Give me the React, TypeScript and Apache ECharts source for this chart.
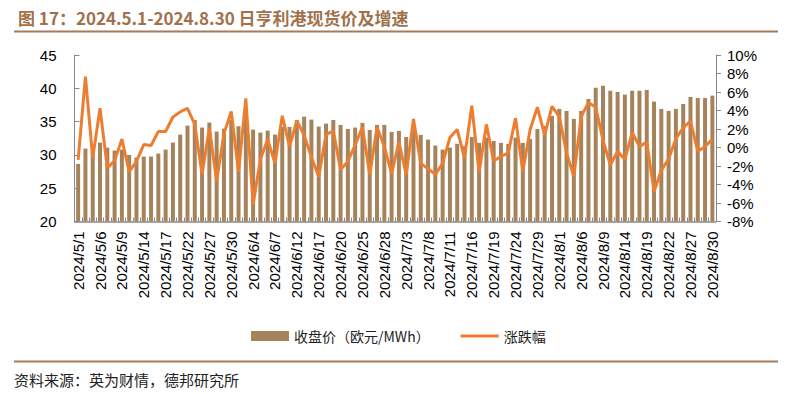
import React, { useEffect, useRef } from "react";
import * as echarts from "echarts";

const dates: string[] = [
  "2024/5/1","2024/5/2","2024/5/3","2024/5/6","2024/5/7","2024/5/8","2024/5/9","2024/5/10","2024/5/13","2024/5/14",
  "2024/5/15","2024/5/16","2024/5/17","2024/5/20","2024/5/21","2024/5/22","2024/5/23","2024/5/24","2024/5/27","2024/5/28",
  "2024/5/29","2024/5/30","2024/5/31","2024/6/3","2024/6/4","2024/6/5","2024/6/6","2024/6/7","2024/6/10","2024/6/11",
  "2024/6/12","2024/6/13","2024/6/14","2024/6/17","2024/6/18","2024/6/19","2024/6/20","2024/6/21","2024/6/24","2024/6/25",
  "2024/6/26","2024/6/27","2024/6/28","2024/7/1","2024/7/2","2024/7/3","2024/7/4","2024/7/5","2024/7/8","2024/7/9",
  "2024/7/10","2024/7/11","2024/7/12","2024/7/15","2024/7/16","2024/7/17","2024/7/18","2024/7/19","2024/7/22","2024/7/23",
  "2024/7/24","2024/7/25","2024/7/26","2024/7/29","2024/7/30","2024/7/31","2024/8/1","2024/8/2","2024/8/5","2024/8/6",
  "2024/8/7","2024/8/8","2024/8/9","2024/8/12","2024/8/13","2024/8/14","2024/8/15","2024/8/16","2024/8/19","2024/8/20",
  "2024/8/21","2024/8/22","2024/8/23","2024/8/26","2024/8/27","2024/8/28","2024/8/29","2024/8/30",
];

const closePrice: number[] = [
  28.65, 30.95, 30.6, 31.85, 31.1, 30.65, 30.8, 30.0, 29.6, 29.75,
  29.75, 30.2, 30.8, 31.85, 33.05, 34.4, 35.25, 34.1, 34.85, 33.5,
  33.95, 35.25, 34.3, 36.1, 33.8, 33.35, 33.65, 33.05, 34.2, 34.2,
  35.25, 35.75, 35.3, 34.25, 34.7, 35.25, 34.5, 33.9, 34.1, 34.8,
  33.75, 34.5, 34.5, 33.45, 33.6, 32.7, 33.7, 33.0, 32.3, 31.4,
  30.8, 31.1, 31.65, 31.3, 32.7, 31.8, 32.6, 32.1, 31.8, 31.65,
  32.6, 31.8, 32.4, 33.9, 34.35, 35.85, 36.9, 36.6, 35.4, 36.6,
  38.4, 40.1, 40.4, 39.65, 39.45, 39.05, 39.65, 39.65, 39.75, 38.0,
  36.9, 36.6, 36.9, 37.65, 38.7, 38.55, 38.55, 38.9,
];

const changePct: number[] = [
  -1.33, 7.66, -1.15, 4.24, -2.23, -1.42, 0.9, -2.6, -1.5, 0.32,
  0.22, 1.73, 1.73, 3.3, 3.85, 4.24, 2.5, -2.9, 2.1, -3.65,
  1.5, 3.9, -2.66, 5.32, -6.15, -1.3, 0.9, -1.7, 3.43, 0.1,
  2.9, 1.33, -1.05, -3.15, 1.4, 1.8, -2.41, -1.5, 0.29, 2.22,
  -2.95, 2.18, 0.1, -2.85, 0.6, -2.95, 3.08, -1.72, -2.3, -2.9,
  -1.72, 1.08, 1.95, -1.15, 4.53, -2.7, 2.5, -1.47, -0.97, -0.61,
  3.17, -2.59, 1.95, 4.35, 1.35, 4.45, 3.35, -0.6, -3.12, 3.33,
  4.85, 4.35, 0.8, -1.9, -0.4, -1.3, 1.63, 0.11, 0.58, -4.75,
  -2.45, -1.25, 0.95, 2.15, 2.85, -0.42, 0.12, 0.88,
];

const leftTicks = { min: 20, max: 45, interval: 5 };
const rightTicks = { min: -8, max: 10, interval: 2 };

const titleText = "图 17：2024.5.1-2024.8.30 日亨利港现货价及增速";
const sourceText = "资料来源：英为财情，德邦研究所";
const barName = "收盘价（欧元/MWh）";
const lineName = "涨跌幅";

const BAR_COLOR = "#A5845B";
const LINE_COLOR = "#ED7D31";
const TITLE_COLOR = "#A0714B";
const NUM_FONT = "'Liberation Sans', Arial, sans-serif";
const CJK_FONT = "'Noto Sans CJK SC', sans-serif";

export default function App() {
  const ref = useRef<HTMLDivElement>(null);
  useEffect(() => {
    if (!ref.current) return;
    const chart = echarts.init(ref.current, null, { renderer: "svg" });
    chart.setOption({
      animation: false,
      backgroundColor: "#ffffff",
      title: {
        text: titleText,
        left: 13,
        top: 4,
        textStyle: {
          fontSize: 17,
          fontWeight: "bold",
          color: TITLE_COLOR,
          fontFamily: CJK_FONT,
        },
      },
      graphic: [
        {
          type: "line",
          shape: { x1: 14, y1: 31.5, x2: 778, y2: 31.5 },
          style: { stroke: "#A67B5B", lineWidth: 2 },
        },
        {
          type: "line",
          shape: { x1: 14, y1: 361.5, x2: 778, y2: 361.5 },
          style: { stroke: "#A67B5B", lineWidth: 2 },
        },
        {
          type: "text",
          left: 14,
          top: 372,
          style: {
            text: sourceText,
            fontSize: 15,
            fill: "#222",
            fontFamily: CJK_FONT,
          },
        },
      ],
      legend: {
        left: 246,
        top: 324,
        itemWidth: 38,
        itemHeight: 10,
        itemGap: 31,
        textStyle: { fontSize: 14, color: "#222", fontFamily: CJK_FONT },
        data: [
          { name: barName, icon: "rect" },
          { name: lineName, icon: "path://M0,0 H38 V3 H0 Z", itemStyle: { color: LINE_COLOR } },
        ],
      },
      grid: { left: 74.5, right: 74, top: 55, bottom: 172.5, containLabel: false },
      xAxis: {
        type: "category",
        data: dates,
        boundaryGap: true,
        axisLine: { onZero: false, lineStyle: { color: "#888", width: 1.5 } },
        axisTick: { show: true, inside: true, length: 4, interval: 0, lineStyle: { color: "#888" } },
        axisLabel: {
          interval: 2,
          rotate: 90,
          margin: 10,
          fontSize: 15,
          color: "#000",
          fontFamily: NUM_FONT,
        },
        splitLine: { show: false },
      },
      yAxis: [
        {
          type: "value",
          min: leftTicks.min,
          max: leftTicks.max,
          interval: leftTicks.interval,
          position: "left",
          axisLine: { show: true, lineStyle: { color: "#888" } },
          axisTick: { show: true, inside: true, length: 5, lineStyle: { color: "#888" } },
          axisLabel: { margin: 18, fontSize: 15, color: "#000", fontFamily: NUM_FONT },
          splitLine: { show: false },
        },
        {
          type: "value",
          min: rightTicks.min,
          max: rightTicks.max,
          interval: rightTicks.interval,
          position: "right",
          axisLine: { show: true, lineStyle: { color: "#888" } },
          axisTick: { show: true, inside: false, length: 5, lineStyle: { color: "#888" } },
          axisLabel: {
            margin: 11,
            fontSize: 15,
            color: "#000",
            fontFamily: NUM_FONT,
            formatter: "{value}%",
          },
          splitLine: { show: false },
        },
      ],
      series: [
        {
          name: barName,
          type: "bar",
          yAxisIndex: 0,
          data: closePrice,
          barWidth: 4,
          itemStyle: { color: BAR_COLOR },
        },
        {
          name: lineName,
          type: "line",
          yAxisIndex: 1,
          data: changePct,
          symbol: "none",
          lineStyle: { color: LINE_COLOR, width: 3 },
          itemStyle: { color: LINE_COLOR },
          z: 3,
        },
      ],
    });
    return () => chart.dispose();
  }, []);
  return (
    <div
      ref={ref}
      style={{ position: "fixed", left: 0, top: 0, width: 790, height: 394, background: "#fff" }}
    />
  );
}
